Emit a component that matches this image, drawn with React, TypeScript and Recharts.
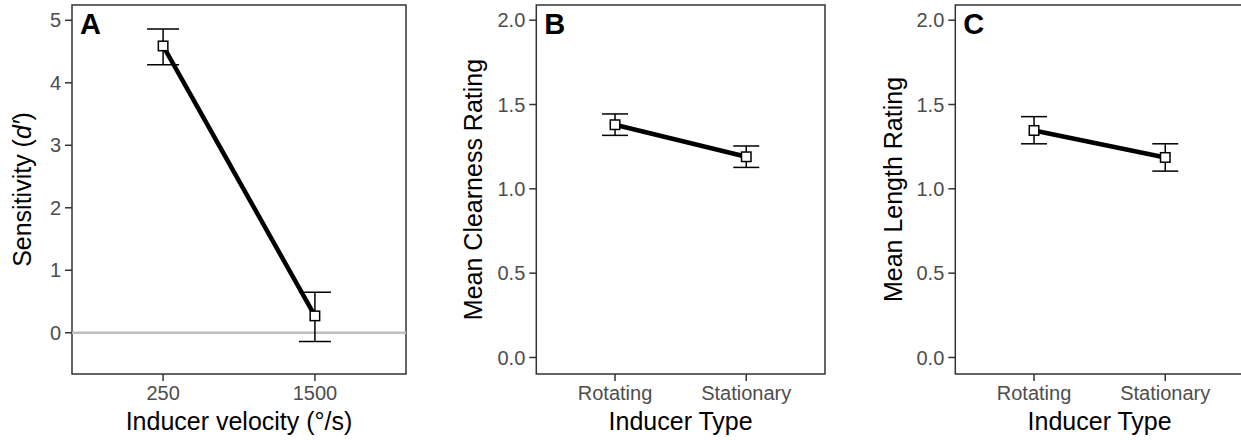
import React from "react";
import {
  ErrorBar,
  Label,
  Line,
  LineChart,
  ReferenceArea,
  ReferenceLine,
  XAxis,
  YAxis,
} from "recharts";

// panel A: sensitivity by inducer velocity
const velocityLabels = ["250", "1500"];
const sensitivityMean = [4.59, 0.27];
const sensitivityLow = [4.29, -0.14];
const sensitivityHigh = [4.86, 0.65];

// panels B and C: ratings by inducer type
const typeLabels = ["Rotating", "Stationary"];
const clearnessMean = [1.38, 1.19];
const clearnessLow = [1.317, 1.127];
const clearnessHigh = [1.444, 1.254];
const lengthMean = [1.346, 1.186];
const lengthLow = [1.267, 1.105];
const lengthHigh = [1.428, 1.267];

const sensitivityTicks = [0, 1, 2, 3, 4, 5];
const ratingTicks = [0, 0.5, 1, 1.5, 2];

const FONT = '"Liberation Sans", Arial, sans-serif';
const TICK_COLOR = "#4d4d4d";
const BORDER = "#333333";

function buildRows(labels: string[], mean: number[], low: number[], high: number[]) {
  return labels.map((label, i) => ({
    pos: i + 1,
    label,
    mean: mean[i],
    err: [mean[i] - low[i], high[i] - mean[i]],
  }));
}

const squareDot = (props: any) => {
  const { cx, cy, index } = props;
  const s = 9.5;
  return (
    <rect
      key={`dot-${index}`}
      x={cx - s / 2}
      y={cy - s / 2}
      width={s}
      height={s}
      fill="#fff"
      stroke="#000"
      strokeWidth={1.5}
    />
  );
};

const yTitle = (content: React.ReactNode, x: number) => (props: any) => {
  const vb = props.viewBox;
  const cy = vb.y + vb.height / 2;
  return (
    <text
      x={x}
      y={cy}
      transform={`rotate(-90, ${x}, ${cy})`}
      textAnchor="middle"
      fontSize={25}
      fill="#000"
      fontFamily={FONT}
    >
      {content}
    </text>
  );
};

interface PanelProps {
  letter: string;
  rows: ReturnType<typeof buildRows>;
  labels: string[];
  width: number;
  axisWidth: number;
  marginRight: number;
  domain: [number, number];
  ticks: number[];
  tickFormat: (v: number) => string;
  yLabel: React.ReactNode;
  yLabelX: number;
  xLabel: string;
  whisker: number;
  zeroLine?: boolean;
}

function Panel({
  letter,
  rows,
  labels,
  width,
  axisWidth,
  marginRight,
  domain,
  ticks,
  tickFormat,
  yLabel,
  yLabelX,
  xLabel,
  whisker,
  zeroLine,
}: PanelProps) {
  return (
    <LineChart
      width={width}
      height={440}
      data={rows}
      margin={{ top: 5, right: marginRight, bottom: 0, left: 0 }}
    >
      <XAxis
        dataKey="pos"
        type="number"
        domain={[0.4, 2.6]}
        ticks={[1, 2]}
        allowDataOverflow
        tickFormatter={(v: number) => labels[v - 1]}
        height={66}
        axisLine={false}
        tickSize={7}
        tickMargin={5}
        tickLine={{ stroke: BORDER, strokeWidth: 1.5 }}
        tick={{ fill: TICK_COLOR, fontSize: 20 }}
      >
        <Label value={xLabel} position="insideBottom" offset={10} fill="#000" fontSize={25} />
      </XAxis>
      <YAxis
        type="number"
        domain={domain}
        ticks={ticks}
        allowDataOverflow
        width={axisWidth}
        axisLine={false}
        tickSize={7}
        tickMargin={4}
        tickFormatter={tickFormat}
        tickLine={{ stroke: BORDER, strokeWidth: 1.5 }}
        tick={{ fill: TICK_COLOR, fontSize: 20 }}
      >
        <Label content={yTitle(yLabel, yLabelX)} />
      </YAxis>
      {zeroLine && <ReferenceLine y={0} stroke="#bebebe" strokeWidth={2.5} />}
      <ReferenceArea
        x1={0.4}
        x2={2.6}
        y1={domain[0]}
        y2={domain[1]}
        fill="none"
        stroke={BORDER}
        strokeWidth={1.5}
        ifOverflow="visible"
        label={{
          value: letter,
          position: "insideTopLeft",
          offset: 8,
          fontSize: 29,
          fontWeight: "bold",
          fill: "#000",
        }}
      />
      <Line
        dataKey="mean"
        stroke="#000"
        strokeWidth={4.5}
        dot={squareDot}
        activeDot={false}
        isAnimationActive={false}
      >
        <ErrorBar
          dataKey="err"
          direction="y"
          width={whisker}
          stroke="#000"
          strokeWidth={1.5}
          isAnimationActive={false}
        />
      </Line>
    </LineChart>
  );
}

export default function App() {
  const sensRows = buildRows(velocityLabels, sensitivityMean, sensitivityLow, sensitivityHigh);
  const clearRows = buildRows(typeLabels, clearnessMean, clearnessLow, clearnessHigh);
  const lenRows = buildRows(typeLabels, lengthMean, lengthLow, lengthHigh);
  const oneDec = (v: number) => v.toFixed(1);

  return (
    <div
      style={{
        position: "fixed",
        left: 0,
        top: 0,
        width: 1241,
        height: 440,
        overflow: "hidden",
        background: "#fff",
        fontFamily: FONT,
      }}
    >
      <div style={{ position: "absolute", left: 0, top: 0 }}>
        <Panel
          letter="A"
          rows={sensRows}
          labels={velocityLabels}
          width={420}
          axisWidth={72}
          marginRight={14}
          domain={[-0.66, 5.245]}
          ticks={sensitivityTicks}
          tickFormat={(v) => String(v)}
          yLabel={
            <>
              Sensitivity (<tspan fontStyle="italic">d′</tspan>)
            </>
          }
          yLabelX={31}
          xLabel="Inducer velocity (°/s)"
          whisker={16}
          zeroLine
        />
      </div>
      <div style={{ position: "absolute", left: 440, top: 0 }}>
        <Panel
          letter="B"
          rows={clearRows}
          labels={typeLabels}
          width={400}
          axisWidth={96.3}
          marginRight={15}
          domain={[-0.098, 2.09]}
          ticks={ratingTicks}
          tickFormat={oneDec}
          yLabel="Mean Clearness Rating"
          yLabelX={42}
          xLabel="Inducer Type"
          whisker={13}
        />
      </div>
      <div style={{ position: "absolute", left: 870, top: 0 }}>
        <Panel
          letter="C"
          rows={lenRows}
          labels={typeLabels}
          width={380}
          axisWidth={85.3}
          marginRight={6}
          domain={[-0.098, 2.09]}
          ticks={ratingTicks}
          tickFormat={oneDec}
          yLabel="Mean Length Rating"
          yLabelX={32}
          xLabel="Inducer Type"
          whisker={13}
        />
      </div>
    </div>
  );
}
